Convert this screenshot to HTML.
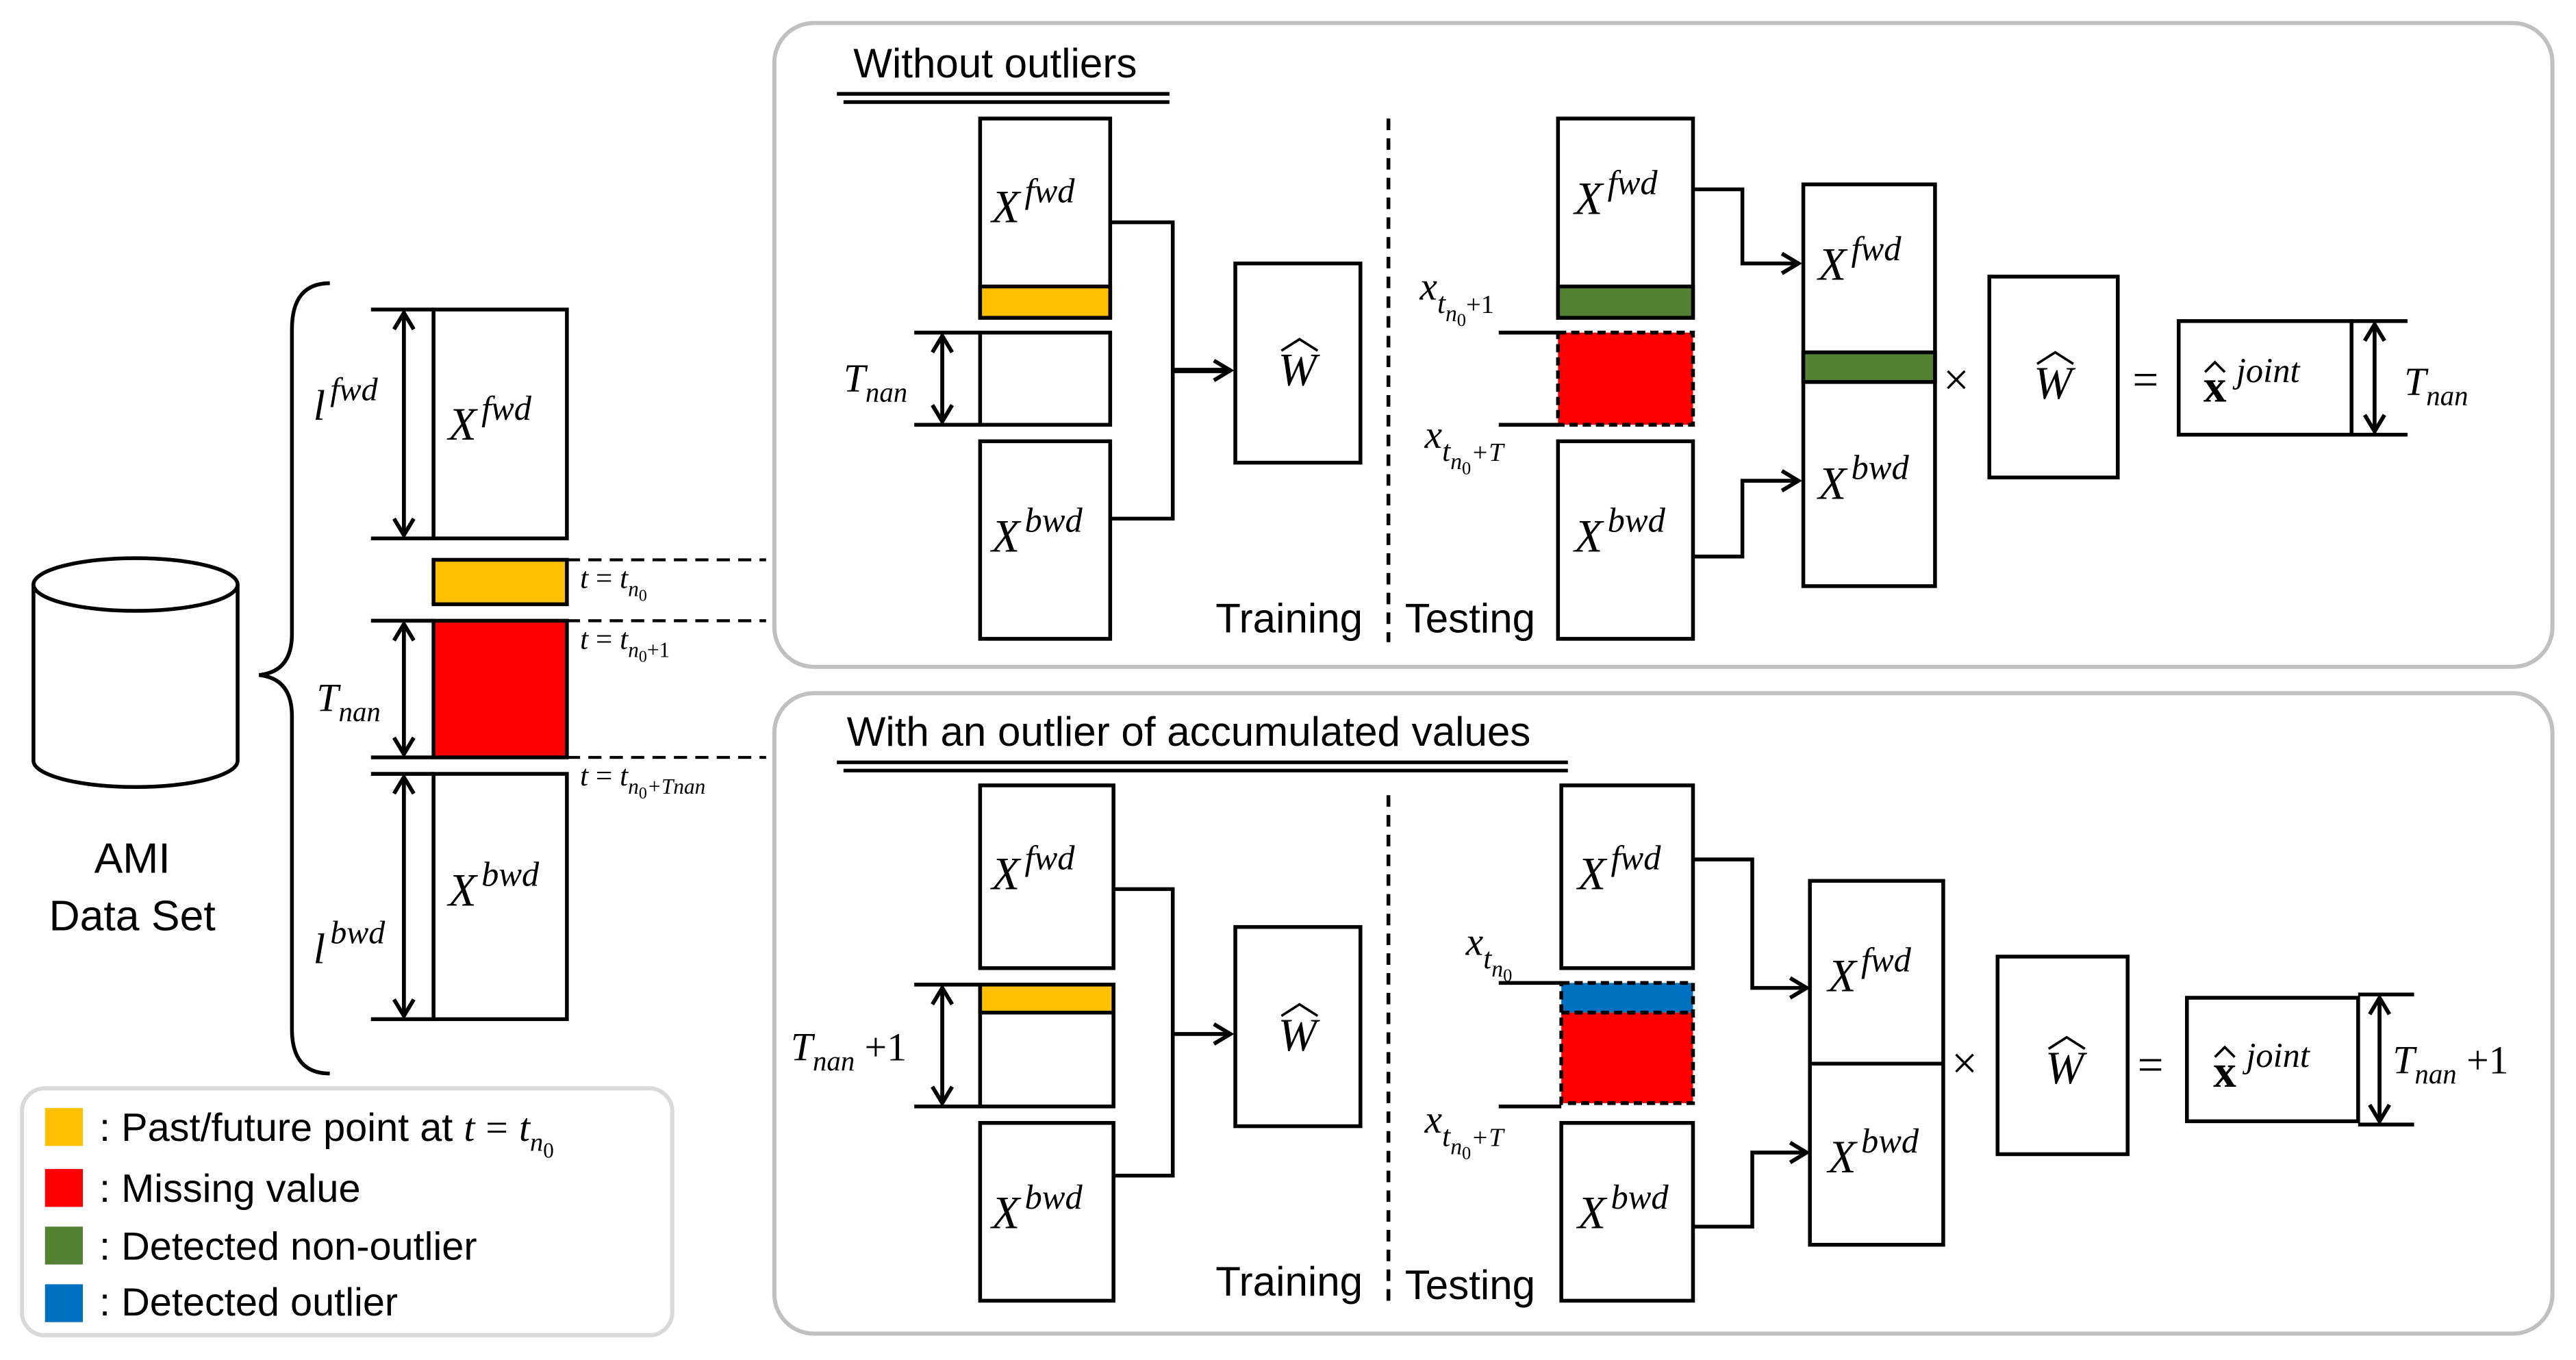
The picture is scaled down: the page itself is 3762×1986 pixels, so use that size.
<!DOCTYPE html>
<html><head><meta charset="utf-8"><style>
html,body{margin:0;padding:0;background:#fff;}
svg{display:block;}
.s{font-family:"Liberation Sans",sans-serif;fill:#000;}
.m{font-family:"Liberation Serif",serif;font-style:italic;fill:#000;}
.r{font-family:"Liberation Serif",serif;font-style:normal;fill:#000;}
</style></head><body>
<svg width="3762" height="1986" viewBox="0 0 1564 826" xmlns="http://www.w3.org/2000/svg">
<defs>
<marker id="a" markerWidth="14" markerHeight="14" refX="12" refY="7" orient="auto" markerUnits="userSpaceOnUse">
<path d="M2,1 L12,7 L2,13" fill="none" stroke="#000" stroke-width="2.4"/>
</marker>
</defs>
<g stroke="#000" stroke-width="2.3" fill="none">

<path d="M20,355 L20,462 A62,16 0 0 0 144,462 L144,355" fill="#fff"/>
<ellipse cx="82" cy="355" rx="62" ry="16" fill="#fff"/>
<path d="M200,172 Q177,172 177,200 L177,385 Q177,408 157,410 Q177,412 177,435 L177,625 Q177,652 200,652"/>

<rect x="263" y="188" width="81" height="139"/>
<rect x="263" y="340" width="81" height="27" fill="#ffc000"/>
<rect x="263" y="377" width="81" height="83" fill="#ff0000"/>
<rect x="263" y="470" width="81" height="149"/>
<path d="M225,188 H263 M225,327 H263 M225,377 H263 M225,460 H263 M225,470 H263 M225,619 H263"/>
<path d="M245,190 V325" marker-end="url(#a)"/><path d="M245,325 V190" marker-end="url(#a)"/>
<path d="M245,379 V458" marker-end="url(#a)"/><path d="M245,458 V379" marker-end="url(#a)"/>
<path d="M245,472 V617" marker-end="url(#a)"/><path d="M245,617 V472" marker-end="url(#a)"/>
<path d="M344,340 H465 M344,377 H465 M344,460 H465" stroke-dasharray="8,5" stroke-width="1.8"/>

<rect x="13" y="661" width="395" height="150" rx="14" stroke="#d9d9d9" stroke-width="2.5"/>

<rect x="470" y="14" width="1080" height="391" rx="24" stroke="#c0c0c0" stroke-width="2.5"/>
<rect x="470" y="421" width="1080" height="389" rx="24" stroke="#c0c0c0" stroke-width="2.5"/>
<path d="M508,57 H710 M512,62 H710 M508,463 H952 M512,468 H952" stroke-width="2.2"/>

<rect x="595" y="72" width="79" height="121"/>
<rect x="595" y="174" width="79" height="19" fill="#ffc000"/>
<rect x="595" y="202" width="79" height="56"/>
<rect x="595" y="268" width="79" height="120"/>
<path d="M555,202 H595 M555,258 H595"/>
<path d="M572,204 V256" marker-end="url(#a)"/><path d="M572,256 V204" marker-end="url(#a)"/>
<path d="M674,135 H712 V315 H674"/>
<path d="M712,225 H747" marker-end="url(#a)" stroke-width="3.2"/>
<rect x="750" y="160" width="76" height="121"/>
<path d="M843,72 V390" stroke-dasharray="7,5"/>

<rect x="946" y="72" width="82" height="121"/>
<rect x="946" y="174" width="82" height="19" fill="#548235"/>
<rect x="946" y="268" width="82" height="120"/>
<rect x="946" y="202" width="82" height="56" fill="#ff0000" stroke="none"/>
<rect x="946" y="202" width="82" height="56" stroke-dasharray="5,3"/>
<path d="M910,202 H946 M910,258 H946"/>
<path d="M1028,115 H1058 V160 H1092" marker-end="url(#a)"/>
<path d="M1028,338 H1058 V292 H1092" marker-end="url(#a)"/>
<rect x="1095" y="112" width="80" height="244"/>
<rect x="1095" y="214" width="80" height="18" fill="#548235"/>
<rect x="1208" y="168" width="78" height="122"/>
<rect x="1323" y="195" width="105" height="69"/>
<path d="M1428,195 H1462 M1428,264 H1462"/>
<path d="M1442,197 V262" marker-end="url(#a)"/><path d="M1442,262 V197" marker-end="url(#a)"/>

<rect x="595" y="477" width="81" height="111"/>
<rect x="595" y="598" width="81" height="74"/>
<rect x="595" y="598" width="81" height="17" fill="#ffc000"/>
<rect x="595" y="682" width="81" height="108"/>
<path d="M555,598 H595 M555,672 H595"/>
<path d="M572,600 V670" marker-end="url(#a)"/><path d="M572,670 V600" marker-end="url(#a)"/>
<path d="M676,540 H712 V714 H676"/>
<path d="M712,628 H747" marker-end="url(#a)"/>
<rect x="750" y="563" width="76" height="121"/>
<path d="M843,483 V790" stroke-dasharray="7,5"/>

<rect x="948" y="477" width="80" height="111"/>
<rect x="948" y="682" width="80" height="108"/>
<rect x="948" y="597" width="80" height="18" fill="#0070c0" stroke="none"/>
<rect x="948" y="615" width="80" height="55" fill="#ff0000" stroke="none"/>
<rect x="948" y="597" width="80" height="73" stroke-dasharray="5,3"/>
<path d="M948,615 H1028" stroke-dasharray="5,3"/>
<path d="M910,597 H948 M910,672 H948"/>
<path d="M1028,522 H1064 V600 H1097" marker-end="url(#a)"/>
<path d="M1028,745 H1064 V700 H1097" marker-end="url(#a)"/>
<rect x="1099" y="535" width="81" height="221"/>
<path d="M1099,646 H1180"/>
<rect x="1213" y="581" width="79" height="120"/>
<rect x="1328" y="606" width="104" height="75"/>
<path d="M1432,604 H1466 M1432,683 H1466"/>
<path d="M1445,606 V681" marker-end="url(#a)"/><path d="M1445,681 V606" marker-end="url(#a)"/>

<!-- hats -->
<g stroke-width="1.5">
<path d="M778,213 L789,206 L800,213"/>
<path d="M1237,221 L1248,214 L1259,221"/>
<path d="M778,617 L789,610 L800,617"/>
<path d="M1244,637 L1255,630 L1266,637"/>
<path d="M1339,226 L1345,220 L1351,226"/>
<path d="M1345,642 L1351,636 L1357,642"/>
</g>
</g>

<rect x="27" y="673" width="23" height="23" fill="#ffc000"/>
<rect x="27" y="710" width="23" height="23" fill="#ff0000"/>
<rect x="27" y="745" width="23" height="23" fill="#548235"/>
<rect x="27" y="780" width="23" height="23" fill="#0070c0"/>
<g class="s" font-size="24">
<text x="60" y="693">: Past/future point at <tspan class="m">t</tspan> <tspan class="r">=</tspan> <tspan class="m">t</tspan><tspan class="m" font-size="16" dy="6">n</tspan><tspan class="r" font-size="13" dy="4">0</tspan></text>
<text x="60" y="730">: Missing value</text>
<text x="60" y="765">: Detected non-outlier</text>
<text x="60" y="799">: Detected outlier</text>
<text x="80" y="530" text-anchor="middle" font-size="26">AMI</text>
<text x="80" y="565" text-anchor="middle" font-size="26">Data Set</text>
<text x="518" y="47" font-size="25">Without outliers</text>
<text x="514" y="453" font-size="25">With an outlier of accumulated values</text>
<text x="738" y="384" font-size="25">Training</text>
<text x="853" y="384" font-size="25">Testing</text>
<text x="738" y="787" font-size="25">Training</text>
<text x="853" y="789" font-size="25">Testing</text>
</g>

<g class="m" font-size="28">
<text x="190" y="255" font-size="26">l<tspan font-size="20" dx="3" dy="-12">fwd</tspan></text>
<text x="272" y="267">X<tspan font-size="21" dx="3" dy="-12">fwd</tspan></text>
<text x="192" y="432" font-size="24">T<tspan font-size="17" dy="6">nan</tspan></text>
<text x="190" y="585" font-size="26">l<tspan font-size="20" dx="3" dy="-12">bwd</tspan></text>
<text x="272" y="550">X<tspan font-size="21" dx="3" dy="-12">bwd</tspan></text>
<text x="352" y="357" font-size="18">t <tspan class="r">=</tspan> t<tspan font-size="13" dy="5">n</tspan><tspan class="r" font-size="10" dy="3">0</tspan></text>
<text x="352" y="394" font-size="18">t <tspan class="r">=</tspan> t<tspan font-size="13" dy="5">n</tspan><tspan class="r" font-size="10" dy="3">0</tspan><tspan class="r" font-size="13" dy="-3">+1</tspan></text>
<text x="352" y="477" font-size="18">t <tspan class="r">=</tspan> t<tspan font-size="13" dy="5">n</tspan><tspan class="r" font-size="10" dy="3">0</tspan><tspan font-size="13" dy="-3">+Tnan</tspan></text>

<text x="602" y="135">X<tspan font-size="21" dx="3" dy="-12">fwd</tspan></text>
<text x="512" y="238" font-size="24">T<tspan font-size="17" dy="6">nan</tspan></text>
<text x="602" y="335">X<tspan font-size="21" dx="3" dy="-12">bwd</tspan></text>
<text x="776" y="234">W</text>
<text x="956" y="130">X<tspan font-size="21" dx="3" dy="-12">fwd</tspan></text>
<text x="956" y="335">X<tspan font-size="21" dx="3" dy="-12">bwd</tspan></text>
<text x="862" y="182" font-size="24">x<tspan font-size="18" dy="8">t</tspan><tspan font-size="14" dy="5">n</tspan><tspan class="r" font-size="11" dy="3">0</tspan><tspan class="r" font-size="16" dy="-8">+1</tspan></text>
<text x="865" y="272" font-size="24">x<tspan font-size="18" dy="8">t</tspan><tspan font-size="14" dy="5">n</tspan><tspan class="r" font-size="11" dy="3">0</tspan><tspan font-size="16" dy="-8">+T</tspan></text>
<text x="1104" y="170">X<tspan font-size="21" dx="3" dy="-12">fwd</tspan></text>
<text x="1104" y="303">X<tspan font-size="21" dx="3" dy="-12">bwd</tspan></text>
<text x="1180" y="240" class="r">×</text>
<text x="1235" y="242">W</text>
<text x="1295" y="240" class="r">=</text>
<text x="1338" y="244" class="r" font-weight="bold" font-size="28">x</text>
<text x="1358" y="232" font-size="21">joint</text>
<text x="1460" y="240" font-size="24">T<tspan font-size="17" dy="6">nan</tspan></text>

<text x="602" y="540">X<tspan font-size="21" dx="3" dy="-12">fwd</tspan></text>
<text x="480" y="644" font-size="24">T<tspan font-size="17" dy="6">nan</tspan><tspan class="r" font-size="24" dy="-6"> +1</tspan></text>
<text x="602" y="746">X<tspan font-size="21" dx="3" dy="-12">bwd</tspan></text>
<text x="776" y="638">W</text>
<text x="958" y="540">X<tspan font-size="21" dx="3" dy="-12">fwd</tspan></text>
<text x="958" y="746">X<tspan font-size="21" dx="3" dy="-12">bwd</tspan></text>
<text x="890" y="580" font-size="24">x<tspan font-size="18" dy="8">t</tspan><tspan font-size="14" dy="5">n</tspan><tspan class="r" font-size="11" dy="3">0</tspan></text>
<text x="865" y="688" font-size="24">x<tspan font-size="18" dy="8">t</tspan><tspan font-size="14" dy="5">n</tspan><tspan class="r" font-size="11" dy="3">0</tspan><tspan font-size="16" dy="-8">+T</tspan></text>
<text x="1110" y="602">X<tspan font-size="21" dx="3" dy="-12">fwd</tspan></text>
<text x="1110" y="712">X<tspan font-size="21" dx="3" dy="-12">bwd</tspan></text>
<text x="1185" y="655" class="r">×</text>
<text x="1242" y="658">W</text>
<text x="1298" y="656" class="r">=</text>
<text x="1344" y="660" class="r" font-weight="bold" font-size="28">x</text>
<text x="1364" y="648" font-size="21">joint</text>
<text x="1453" y="652" font-size="24">T<tspan font-size="17" dy="6">nan</tspan><tspan class="r" font-size="24" dy="-6"> +1</tspan></text>
</g>
</svg>
</body></html>
